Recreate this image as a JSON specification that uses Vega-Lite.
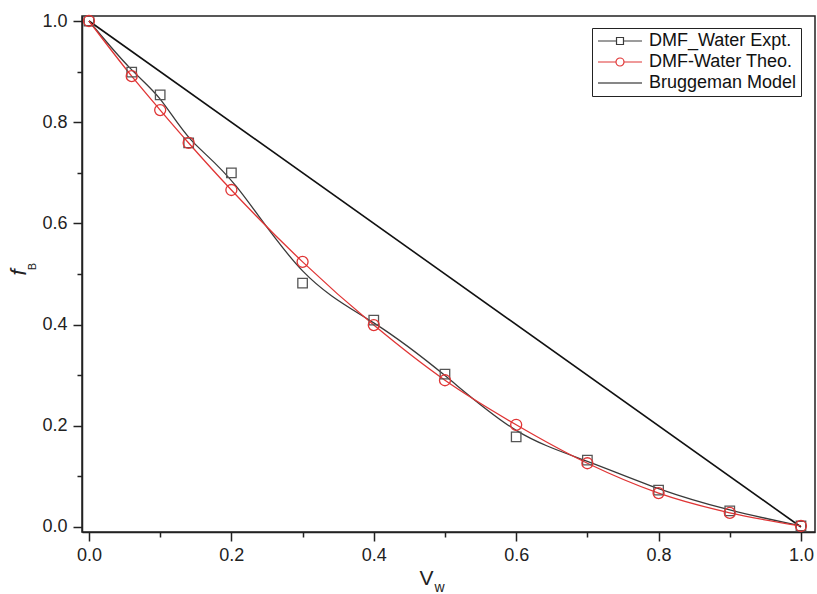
{
  "$schema": "https://vega.github.io/schema/vega-lite/v6.json",
  "width": 733,
  "height": 516,
  "autosize": {"type": "none"},
  "padding": {"left": 82, "top": 16, "right": 2, "bottom": 62},
  "background": "white",
  "config": {
    "view": {"stroke": "#222", "strokeWidth": 1.5},
    "font": "Liberation Sans"
  },
  "data": {
    "values": [
      {"V": 0.0, "f": 1.0, "s": "DMF_Water Expt."},
      {"V": 0.06, "f": 0.899, "s": "DMF_Water Expt."},
      {"V": 0.1, "f": 0.854, "s": "DMF_Water Expt."},
      {"V": 0.14, "f": 0.759, "s": "DMF_Water Expt."},
      {"V": 0.2, "f": 0.70, "s": "DMF_Water Expt."},
      {"V": 0.3, "f": 0.482, "s": "DMF_Water Expt."},
      {"V": 0.4, "f": 0.409, "s": "DMF_Water Expt."},
      {"V": 0.5, "f": 0.302, "s": "DMF_Water Expt."},
      {"V": 0.6, "f": 0.178, "s": "DMF_Water Expt."},
      {"V": 0.7, "f": 0.132, "s": "DMF_Water Expt."},
      {"V": 0.8, "f": 0.073, "s": "DMF_Water Expt."},
      {"V": 0.9, "f": 0.032, "s": "DMF_Water Expt."},
      {"V": 1.0, "f": 0.002, "s": "DMF_Water Expt."},
      {"V": 0.0, "f": 1.0, "s": "DMF-Water Theo."},
      {"V": 0.06, "f": 0.891, "s": "DMF-Water Theo."},
      {"V": 0.1, "f": 0.824, "s": "DMF-Water Theo."},
      {"V": 0.14, "f": 0.759, "s": "DMF-Water Theo."},
      {"V": 0.2, "f": 0.666, "s": "DMF-Water Theo."},
      {"V": 0.3, "f": 0.524, "s": "DMF-Water Theo."},
      {"V": 0.4, "f": 0.399, "s": "DMF-Water Theo."},
      {"V": 0.5, "f": 0.29, "s": "DMF-Water Theo."},
      {"V": 0.6, "f": 0.202, "s": "DMF-Water Theo."},
      {"V": 0.7, "f": 0.126, "s": "DMF-Water Theo."},
      {"V": 0.8, "f": 0.067, "s": "DMF-Water Theo."},
      {"V": 0.9, "f": 0.028, "s": "DMF-Water Theo."},
      {"V": 1.0, "f": 0.002, "s": "DMF-Water Theo."},
      {"V": 0.0, "f": 1.0, "s": "Bruggeman Model"},
      {"V": 1.0, "f": 0.0, "s": "Bruggeman Model"}
    ]
  },
  "layer": [
    {
      "transform": [{"filter": "datum.s === 'Bruggeman Model'"}],
      "mark": {"type": "line", "strokeWidth": 1.6},
      "encoding": {
        "x": {"field": "V", "type": "quantitative",
          "scale": {"domain": [-0.0098, 1.0197], "nice": false, "zero": false},
          "axis": {"orient": "bottom", "values": [0, 0.2, 0.4, 0.6, 0.8, 1.0], "format": ".1f", "grid": false,
            "tickSize": 9, "tickWidth": 1.5, "tickColor": "#222", "domainColor": "#222", "domainWidth": 1.5,
            "labelFontSize": 18, "labelColor": "#222", "labelPadding": 5, "labelFont": "Liberation Sans",
            "title": "V", "titleFontSize": 21, "titleFontWeight": "normal", "titleColor": "#222",
            "titleX": 344, "titleY": 35, "titleAlign": "center", "titleBaseline": "top"}},
        "y": {"field": "f", "type": "quantitative",
          "scale": {"domain": [-0.0099, 1.0099], "nice": false, "zero": false},
          "axis": {"orient": "left", "values": [0, 0.2, 0.4, 0.6, 0.8, 1.0], "format": ".1f", "grid": false,
            "tickSize": 9, "tickWidth": 1.5, "tickColor": "#222", "domainColor": "#222", "domainWidth": 1.5,
            "labelFontSize": 18, "labelColor": "#222", "labelPadding": 6, "labelFont": "Liberation Sans",
            "title": "f", "titleFontSize": 22, "titleFontStyle": "italic", "titleFontWeight": "normal", "titleColor": "#222",
            "titleAngle": 270, "titleX": -52, "titleY": 256, "titleAlign": "center", "titleBaseline": "bottom"}},
        "color": {"field": "s", "type": "nominal",
          "scale": {"domain": ["DMF_Water Expt.", "DMF-Water Theo.", "Bruggeman Model"], "range": ["#3a3a3a", "#e03535", "#111111"]},
          "legend": {"orient": "none", "legendX": 510, "legendY": 12, "title": null,
            "strokeColor": "#222", "padding": 4, "fillColor": "white",
            "labelFontSize": 18, "labelColor": "#111", "labelFont": "Liberation Sans", "labelOffset": 35,
            "symbolSize": 256, "symbolStrokeWidth": 1.2, "rowPadding": 3,
            "encode": {"symbols": {"update": {
              "shape": {"signal": "datum.label === 'DMF_Water Expt.' ? 'M-0.875,0H1.44M2.31,0H4.625M1.44,-0.44H2.31V0.44H1.44Z' : datum.label === 'DMF-Water Theo.' ? 'M-0.875,0H1.375M2.375,0H4.625M2.375,0A0.5,0.5 0 1 1 1.375,0A0.5,0.5 0 1 1 2.375,0Z' : 'M-0.875,0H4.625'"},
              "fill": {"value": "transparent"}}}}}}
      }
    },
    {
      "transform": [{"filter": "datum.s === 'DMF_Water Expt.'"}],
      "mark": {"type": "line", "interpolate": "basis", "strokeWidth": 1.3},
      "encoding": {
        "x": {"field": "V", "type": "quantitative",
          "scale": {"domain": [-0.0098, 1.0197], "nice": false, "zero": false},
          "axis": {"orient": "bottom", "values": [0.1, 0.3, 0.5, 0.7, 0.9], "grid": false, "labels": false, "domain": false,
            "tickSize": 5, "tickWidth": 1.5, "tickColor": "#222",
            "title": "w", "titleFontSize": 14, "titleFontWeight": "normal", "titleColor": "#222",
            "titleX": 352, "titleY": 48, "titleAlign": "left", "titleBaseline": "top"}},
        "y": {"field": "f", "type": "quantitative",
          "scale": {"domain": [-0.0099, 1.0099], "nice": false, "zero": false},
          "axis": {"orient": "left", "values": [0.1, 0.3, 0.5, 0.7, 0.9], "grid": false, "labels": false, "domain": false,
            "tickSize": 5, "tickWidth": 1.5, "tickColor": "#222",
            "title": "B", "titleFontSize": 11, "titleFontWeight": "normal", "titleColor": "#222",
            "titleAngle": 270, "titleX": -45, "titleY": 250, "titleAlign": "center", "titleBaseline": "bottom"}},
        "color": {"field": "s", "type": "nominal",
          "scale": {"domain": ["DMF_Water Expt.", "DMF-Water Theo.", "Bruggeman Model"], "range": ["#3a3a3a", "#e03535", "#111111"]},
          "legend": {"orient": "none", "legendX": 510, "legendY": 12, "title": null,
            "strokeColor": "#222", "padding": 4, "fillColor": "white",
            "labelFontSize": 18, "labelColor": "#111", "labelFont": "Liberation Sans", "labelOffset": 35,
            "symbolSize": 256, "symbolStrokeWidth": 1.2, "rowPadding": 3,
            "encode": {"symbols": {"update": {
              "shape": {"signal": "datum.label === 'DMF_Water Expt.' ? 'M-0.875,0H1.44M2.31,0H4.625M1.44,-0.44H2.31V0.44H1.44Z' : datum.label === 'DMF-Water Theo.' ? 'M-0.875,0H1.375M2.375,0H4.625M2.375,0A0.5,0.5 0 1 1 1.375,0A0.5,0.5 0 1 1 2.375,0Z' : 'M-0.875,0H4.625'"},
              "fill": {"value": "transparent"}}}}}}
      }
    },
    {
      "transform": [{"filter": "datum.s === 'DMF-Water Theo.'"}],
      "mark": {"type": "line", "interpolate": "monotone", "strokeWidth": 1.3},
      "encoding": {
        "x": {"field": "V", "type": "quantitative", "axis": null},
        "y": {"field": "f", "type": "quantitative", "axis": null},
        "color": {"field": "s", "type": "nominal",
          "scale": {"domain": ["DMF_Water Expt.", "DMF-Water Theo.", "Bruggeman Model"], "range": ["#3a3a3a", "#e03535", "#111111"]},
          "legend": {"orient": "none", "legendX": 510, "legendY": 12, "title": null,
            "strokeColor": "#222", "padding": 4, "fillColor": "white",
            "labelFontSize": 18, "labelColor": "#111", "labelFont": "Liberation Sans", "labelOffset": 35,
            "symbolSize": 256, "symbolStrokeWidth": 1.2, "rowPadding": 3,
            "encode": {"symbols": {"update": {
              "shape": {"signal": "datum.label === 'DMF_Water Expt.' ? 'M-0.875,0H1.44M2.31,0H4.625M1.44,-0.44H2.31V0.44H1.44Z' : datum.label === 'DMF-Water Theo.' ? 'M-0.875,0H1.375M2.375,0H4.625M2.375,0A0.5,0.5 0 1 1 1.375,0A0.5,0.5 0 1 1 2.375,0Z' : 'M-0.875,0H4.625'"},
              "fill": {"value": "transparent"}}}}}}
      }
    },
    {
      "transform": [{"filter": "datum.s === 'DMF_Water Expt.'"}],
      "mark": {"type": "point", "shape": "square", "size": 90, "filled": false, "stroke": "#555555", "strokeWidth": 1.3, "opacity": 1},
      "encoding": {
        "x": {"field": "V", "type": "quantitative", "axis": null},
        "y": {"field": "f", "type": "quantitative", "axis": null}
      }
    },
    {
      "transform": [{"filter": "datum.s === 'DMF-Water Theo.'"}],
      "mark": {"type": "point", "shape": "circle", "size": 121, "filled": false, "stroke": "#e03535", "strokeWidth": 1.3, "opacity": 1},
      "encoding": {
        "x": {"field": "V", "type": "quantitative", "axis": null},
        "y": {"field": "f", "type": "quantitative", "axis": null}
      }
    }
  ],
  "resolve": {"axis": {"x": "independent", "y": "independent"}}
}
